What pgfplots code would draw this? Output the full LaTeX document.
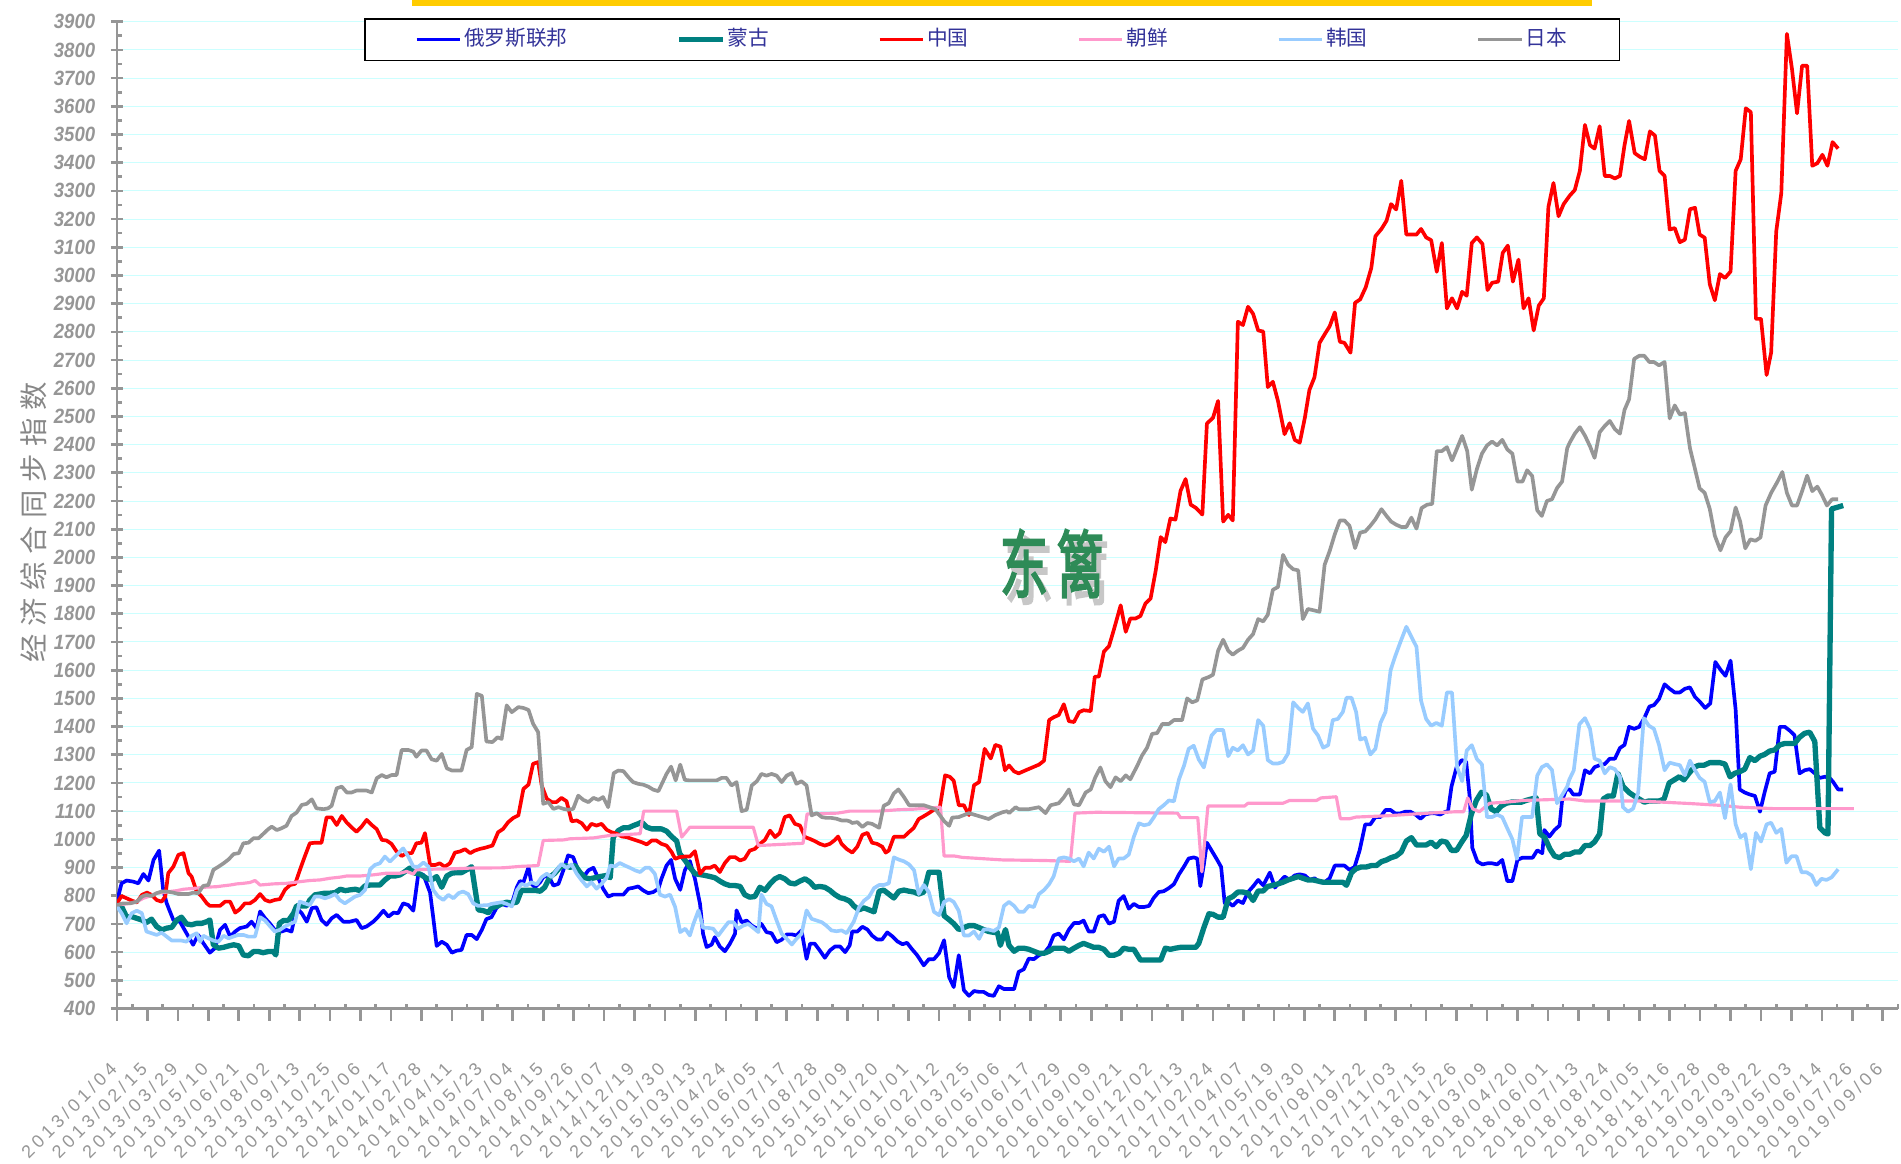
\documentclass[border=0pt]{standalone}
\usepackage{fontspec}
\setmainfont{Liberation Sans}
\newfontfamily\xlabfont[LetterSpace=22]{Liberation Sans}
\newfontfamily\ylabfont[FakeStretch=0.9]{Liberation Sans}
\newfontfamily\cjk{Noto Sans CJK SC}
\newfontfamily\cjkb[FakeBold=3]{Noto Sans CJK SC}
\usepackage{pgfplots}
\pgfplotsset{compat=1.18}
\definecolor{cblue}{HTML}{0000FF}
\definecolor{cteal}{HTML}{008080}
\definecolor{cred}{HTML}{FF0000}
\definecolor{cpink}{HTML}{FF99CC}
\definecolor{clblue}{HTML}{99CCFF}
\definecolor{cgray}{HTML}{969696}
\definecolor{axgray}{HTML}{969696}
\definecolor{gridc}{HTML}{CCFFFF}
\definecolor{legtext}{HTML}{333399}
\definecolor{wmgreen}{HTML}{2E8B57}
\definecolor{barY}{HTML}{FFCC00}

\begin{document}
\begin{tikzpicture}
\path[use as bounding box] (0,0) rectangle (570.3pt,348.9pt);
\fill[barY] (123.6pt,347.1pt) rectangle (477.6pt,348.9pt);
\begin{axis}[
  at={(35.1pt,46.35pt)}, anchor=south west,
  scale only axis, width=534.3pt, height=296.04pt,
  xmin=0, xmax=351, ymin=400, ymax=3900,
  axis x line*=bottom, axis y line*=left,
  axis line style={axgray, line width=0.8pt},
  tick style={axgray, line width=0.8pt},
  major tick length=3.6pt, minor tick length=1.5pt,
  xtick align=inside, ytick align=center,
  major x tick style={yshift=-3.6pt},
  minor y tick style={xshift=0.75pt},
  xtick={0,6,...,348}, minor xtick={3,9,...,351},
  ytick={400,500,...,3900}, minor ytick={450,550,...,3850},
  xticklabels={2013/01/04,2013/02/15,2013/03/29,2013/05/10,2013/06/21,2013/08/02,2013/09/13,2013/10/25,2013/12/06,2014/01/17,2014/02/28,2014/04/11,2014/05/23,2014/07/04,2014/08/15,2014/09/26,2014/11/07,2014/12/19,2015/01/30,2015/03/13,2015/04/24,2015/06/05,2015/07/17,2015/08/28,2015/10/09,2015/11/20,2016/01/01,2016/02/12,2016/03/25,2016/05/06,2016/06/17,2016/07/29,2016/09/09,2016/10/21,2016/12/02,2017/01/13,2017/02/24,2017/04/07,2017/05/19,2017/06/30,2017/08/11,2017/09/22,2017/11/03,2017/12/15,2018/01/26,2018/03/09,2018/04/20,2018/06/01,2018/07/13,2018/08/24,2018/10/05,2018/11/16,2018/12/28,2019/02/08,2019/03/22,2019/05/03,2019/06/14,2019/07/26,2019/09/06},
  xticklabel style={font=\xlabfont\fontsize{5.4}{6}\selectfont, text=axgray, inner sep=0pt, yshift=-15.5pt, xshift=-2.5pt, rotate=45, anchor=north east},
  yticklabel style={font=\ylabfont\fontsize{6.2}{7}\selectfont\bfseries\itshape, text=axgray, anchor=east, xshift=-1.2pt},
  /pgf/number format/.cd, set thousands separator={}, assume math mode=true, /pgfplots/.cd,
  ymajorgrids, major grid style={gridc, line width=0.3pt},
  ylabel={\cjk 经\hspace{2.3pt}济\hspace{2.3pt}综\hspace{2.3pt}合\hspace{2.3pt}同\hspace{2.3pt}步\hspace{2.3pt}指\hspace{2.3pt}数},
  ylabel style={at={(axis description cs:-0.047,0.493)}, anchor=center, font=\fontsize{8.5}{9}\selectfont, text=axgray!90!black},
  legend columns=6,
  legend image code/.code={\draw[#1] (0pt,0pt) -- (13pt,0pt);},
  legend style={at={(axis description cs:0.1387,1.0038)}, anchor=north west,
    draw=black, line width=0.5pt, fill=white,
    font=\cjk\fontsize{6.2}{7}\selectfont, text=legtext,
    inner xsep=15pt, inner ysep=2.2pt,
    nodes={inner sep=0.7pt},
    /tikz/every even column/.append style={column sep=32pt}},
]
\addplot[cblue, line width=1.1pt, line join=round] coordinates {
(0,780) (0.9,844) (1.9,854) (3.2,850) (4.2,844) (5.2,877) (6.2,854) (7.2,927) (8.3,960) (9.1,821) (9.8,773) (11.1,714) (12.4,708) (13.7,667) (15,626) (16,661) (17,632) (18.3,598) (19.3,614) (20.3,679) (21.3,697) (22.3,655) (23.3,673) (24.2,685) (25.6,691) (26.5,708) (27.5,685) (28.2,744) (29.2,720) (30.1,702) (31.1,679) (32.4,673) (33.4,679) (34.4,673) (35.4,756) (36.4,738) (37.4,708) (38.4,756) (39.3,759) (40.3,714) (41.3,697) (42.3,720) (43.3,732) (44.6,708) (45.9,708) (47.2,714) (48.2,685) (49.2,691) (50.5,708) (51.5,726) (52.5,747) (53.5,726) (54.5,740) (55.4,738) (56.4,773) (57.4,767) (58.4,747) (59.4,880) (60.4,874) (61.7,811) (62.3,726) (63,622) (64,637) (65,626) (66,598) (66.9,605) (67.9,608) (68.9,661) (69.9,661) (70.9,646) (71.9,679) (72.8,717) (73.8,724)
(74.8,757) (75.8,771) (76.8,765) (77.8,771) (78.8,830) (79.4,852) (80.1,848) (81.1,901) (81.7,842) (82.4,830) (83.4,848) (84,866) (85,872) (86,836) (87,842) (88,892) (88.9,943) (89.9,937) (90.9,890) (91.9,866) (92.9,890) (93.9,899) (94.9,860) (95.8,825) (96.8,797) (97.8,804) (98.8,804) (99.8,804) (100.8,825) (101.7,828) (102.7,833) (103.7,819) (104.7,809) (105.7,813) (106.7,825) (107.3,860) (108.3,907) (109.2,927) (110,860) (111,821) (111.9,890) (112.9,923) (113.9,860) (114.9,771) (115.5,665) (116.2,618) (117.2,627) (117.8,653) (118.8,620) (119.8,603) (120.8,630) (121.8,665) (122.1,748) (123.1,706) (124.1,712) (125.1,694) (126.1,683) (127,700) (128,671) (129,667) (130,635) (131,644) (132,663) (133,663) (133.9,659) (134.9,677) (135.9,576) (136.6,630) (137.5,630) (138.5,606) (139.5,580) (140.5,606) (141.5,620) (142.5,620) (143.5,600) (144.4,624)
(144.9,673) (145.9,673) (146.9,690) (147.9,680) (148.8,659) (149.8,645) (150.8,645) (151.8,670) (152.8,656) (153.8,638) (154.8,628) (155.7,633) (156.7,610) (157.7,589) (159,553) (160,575) (161,575) (162,596) (163,642) (164,511) (164.9,476) (165.9,589) (166.9,465) (167.9,445) (168.9,462) (169.9,459) (170.8,459) (171.8,448) (172.8,445) (173.8,479) (174.8,469) (175.8,469) (176.8,469) (177.7,530) (178.7,539) (179.7,577) (180.7,575) (181.7,589) (182.7,596) (183.7,619) (184.6,659) (185.6,666) (186.6,645) (187.6,680) (188.6,703) (189.6,703) (190.5,712) (191.5,673) (192.5,673) (193.5,726) (194.5,731) (195.5,701) (196.5,708) (197.4,782) (198.4,799) (199.4,754) (200.4,771) (201.4,760) (202.4,760) (203.4,764) (204.3,792) (205.3,813) (206.3,816) (207.3,827) (208.3,841) (209.3,876) (210.3,904) (211.2,932) (212.2,936) (212.9,932) (213.5,834) (214.2,911) (214.8,988)
(215.7,961) (216.7,931) (217.6,902) (218.3,774) (219,777) (219.9,764) (220.9,783) (221.9,774) (222.9,813) (223.9,833) (224.9,856) (225.9,837) (227.2,882) (228.2,829) (229.1,848) (230.1,868) (231.1,856) (232.1,872) (233.1,876) (234.1,872) (235.1,856) (236,862) (237,848) (238,848) (239,862) (240,907) (241,907) (241.9,907) (242.9,892) (243.9,902) (244.9,961) (246,1053) (247,1053) (248,1079) (249,1079) (250,1104) (251,1104) (251.9,1092) (252.9,1092) (253.9,1098) (254.9,1098) (255.9,1088) (256.9,1073) (257.8,1088) (258.8,1092) (259.8,1092) (260.8,1088) (261.8,1098) (262.3,1098) (263,1187) (264,1256) (265,1281) (265.9,1275) (266.6,1148) (267.1,970) (268.1,921) (269.1,911) (270.1,915) (271,915) (272,911) (273,927) (274,852) (275,852) (276,927) (277,935) (278,935) (279,935) (279.9,961) (280.9,951) (281.3,1033) (282.3,1010) (283.3,1033) (284.3,1049) (284.8,1138) (285.6,1177) (286.3,1177)
(287,1159) (288.3,1159) (289.3,1245) (290.3,1234) (291.2,1256) (292.2,1263) (293.2,1267) (294.2,1286) (295.2,1286) (296.2,1324) (297.1,1335) (298,1399) (299,1392) (300,1399) (301,1430) (302,1471) (302.9,1476) (303.9,1498) (305,1550) (306,1534) (307,1521) (308,1521) (309,1534) (310,1539) (311,1505) (311.9,1489) (313,1466) (314,1482) (315,1629) (316,1602) (317,1580) (318,1634) (319,1460) (319.8,1177) (320.8,1166) (321.8,1159) (322.8,1154) (323.8,1098) (324.7,1166) (325.7,1234) (326.7,1240) (327.7,1399) (328.7,1399) (329.7,1385) (330.6,1369) (331.6,1234) (332.6,1245) (333.6,1249) (334.6,1234) (335.6,1218) (336.6,1222) (337.5,1218) (338.2,1204) (339.2,1177) (340.2,1177)
};
\addlegendentry{俄罗斯联邦}
\addplot[cteal, line width=1.6pt, line join=round] coordinates {
(0,767) (0.9,762) (1.9,724) (2.9,726) (3.9,720) (4.9,714) (5.8,705) (6.8,717) (7.8,691) (8.8,679) (9.8,685) (10.8,688) (11.8,714) (12.7,724) (13.7,700) (14.7,697) (15.7,702) (16.7,702) (17.7,708) (18.3,714) (19,626) (20,614) (21,617) (22,622) (23,626) (24,622) (24.9,590) (25.9,587) (26.9,602) (27.9,602) (28.8,598) (29.8,602) (30.8,602) (31.3,590) (32,702) (32.8,712) (33.8,712) (34.8,738) (35.4,764) (36.4,764) (37.4,764) (38,785) (39,803) (40,806) (41,809) (42,809) (43,811) (44,823) (45,818) (46,821) (47,823) (47.9,818) (48.9,835) (49.9,838) (50.8,838) (51.8,838) (52.8,856) (53.8,870) (54.8,870) (55.8,874) (56.8,886) (57.7,898) (58.7,880) (59.7,877) (61,862) (62,856) (63,868) (64,830) (65,870) (66,880) (66.9,882) (67.9,882) (68.9,892) (69.9,903) (70.5,832) (71.2,750) (72.2,747) (73.2,740)
(73.8,757) (74.8,762) (75.8,771) (76.8,777) (77.8,774) (78.8,777) (79.7,819) (81.1,819) (82.4,819) (83.4,816) (84.3,830) (85.3,866) (86.3,880) (87.3,901) (88.3,907) (89.3,901) (90.3,907) (91.2,884) (92.2,864) (93.2,860) (94.2,864) (95.2,868) (96.5,872) (97.2,864) (97.8,1008) (98.8,1031) (99.8,1041) (100.8,1041) (101.8,1049) (102.7,1055) (103.4,1061) (104.4,1043) (105.4,1037) (106.3,1037) (107.3,1037) (108.3,1029) (109.3,1010) (110.3,994) (110.9,949) (111.9,927) (112.9,901) (113.9,878) (114.9,875) (115.9,872) (116.9,868) (117.8,864) (118.8,852) (119.8,842) (120.8,836) (121.8,836) (122.8,833) (123.7,804) (124.7,795) (125.7,797) (126.7,830) (127.7,819) (128.7,842) (129.7,860) (130.6,868) (131.6,860) (132.6,845) (133.6,842) (134.6,852) (135.6,860) (136.6,848) (137.5,830) (138.5,833) (139.5,830) (140.5,819) (141.5,804) (142.5,793) (143.4,789) (144.4,781)
(145.2,764) (146.2,750) (147.2,757) (148.2,750) (149.2,743) (150.2,816) (151.1,820) (152.1,806) (153.1,792) (154.1,816) (155.1,820) (156.1,816) (157.1,813) (158,806) (159,813) (160,883) (161,883) (162,883) (163,729) (164,715) (164.9,701) (165.9,680) (166.9,687) (167.9,694) (168.9,694) (169.9,687) (170.8,680) (171.8,673) (172.8,670) (173.5,670) (174.1,624) (175.1,680) (175.8,624) (176.8,603) (177.7,614) (178.7,614) (179.7,610) (180.7,603) (181.7,596) (182.7,596) (183.7,603) (184.6,614) (185.6,614) (186.6,614) (187.6,603) (188.6,614) (189.6,624) (190.5,631) (191.5,624) (192.5,617) (193.5,617) (194.5,610) (195.5,589) (196.5,589) (197.5,596) (198.4,614) (199.4,610) (200.4,610) (201.7,572) (202.7,572) (203.7,572) (204.7,572) (205.7,572) (206.6,614) (207.6,610) (208.6,614) (209.6,617) (210.6,617) (211.6,617) (212.6,617) (213.2,631) (214.2,687) (215.2,736)
(216,734) (217,724) (218,724) (219,789) (219.9,797) (220.9,813) (221.9,813) (222.9,809) (223.9,783) (224.9,817) (225.9,817) (226.8,833) (227.8,837) (228.8,842) (229.8,848) (230.8,856) (231.8,862) (232.8,868) (233.7,862) (234.7,856) (235.7,856) (236.7,852) (237.7,848) (238.7,848) (239.6,848) (240.6,848) (241.6,848) (242.3,837) (243.3,882) (244.2,896) (245.2,902) (246.2,902) (247.2,907) (248.2,907) (249.2,921) (250.2,927) (251.1,935) (252.1,941) (253.1,955) (254.1,994) (255.1,1006) (256.1,980) (257.1,980) (258,980) (259,990) (260,974) (261,994) (262,990) (263,961) (264,961) (265,990) (265.9,1014) (266.9,1088) (267.9,1138) (268.9,1167) (269.9,1157) (270.8,1108) (271.8,1098) (272.8,1118) (273.8,1128) (274.8,1132) (275.8,1132) (276.8,1132) (277.7,1138) (278.7,1143) (279.7,1147) (280.4,1020) (281.4,1006) (282.4,966) (283.3,941) (284.3,935) (285.3,947) (286.3,947)
(287.3,955) (288.3,955) (289.3,978) (290.3,978) (291.2,991) (292.2,1019) (292.9,1143) (293.9,1154) (294.9,1154) (295.8,1234) (296.8,1188) (298,1166) (299,1154) (300,1143) (301,1132) (301.9,1136) (302.9,1136) (303.9,1136) (304.9,1143) (305.9,1200) (306.9,1211) (307.9,1222) (308.8,1211) (309.8,1234) (310.8,1256) (311.8,1263) (312.8,1263) (313.9,1272) (314.9,1272) (315.9,1272) (316.9,1267) (317.9,1222) (318.8,1234) (319.8,1240) (320.8,1249) (321.8,1290) (322.8,1279) (323.8,1295) (324.7,1301) (325.7,1313) (326.7,1317) (327.7,1335) (328.7,1340) (329.7,1340) (330.6,1340) (331.6,1362) (332.6,1376) (333.6,1380) (334.6,1347) (335.6,1041) (336.6,1023) (337.2,1019) (337.9,2172) (338.9,2177) (340.2,2184)
};
\addlegendentry{蒙古}
\addplot[cred, line width=1.1pt, line join=round] coordinates {
(0,773) (0.9,799) (1.9,791) (2.9,783) (3.9,776) (4.9,803) (5.9,811) (6.8,803) (7.8,785) (8.8,779) (9.5,797) (10.1,880) (11.1,903) (12.1,945) (13.1,951) (14.1,880) (14.7,868) (15.7,815) (16.7,797) (17.7,773) (18.3,764) (19.3,764) (20.3,764) (21.3,779) (22.3,779) (23.3,740) (24.2,752) (25.2,773) (26.2,773) (27.2,785) (28.2,806) (29.2,785) (30.1,779) (31.1,785) (32.1,788) (33.1,821) (34.1,838) (35.1,842) (36.1,894) (37,939) (38,986) (39,988) (40.3,988) (41.3,1078) (42.3,1078) (43.3,1051) (44.3,1083) (45.3,1059) (46.2,1043) (47.2,1027) (48.2,1045) (49.2,1069) (50.2,1051) (51.2,1036) (52.2,998) (53.1,996) (54.1,984) (55.1,957) (56.1,941) (57.1,951) (58.1,951) (59,986) (60,988) (60.7,1022) (61.7,909) (62.7,909) (63.6,915) (64.6,903) (65.6,915) (66.6,953) (67.6,957) (68.6,965) (69.6,951) (70.5,960) (71.5,966) (72.5,970)
(74,978) (75.1,1025) (76.1,1037) (77.1,1061) (78.1,1076) (79.1,1085) (80.1,1179) (81.1,1194) (82,1268) (83,1274) (83.7,1191) (84.7,1144) (85.7,1132) (86.6,1132) (87.6,1147) (88.6,1135) (89.6,1064) (90.6,1067) (91.6,1057) (92.6,1034) (93.5,1055) (94.5,1049) (95.5,1055) (96.5,1034) (97.5,1025) (98.5,1020) (99.5,1010) (100.4,1008) (101.4,1002) (102.4,996) (103.4,990) (104.4,982) (105.4,996) (106.3,996) (107.3,984) (108.3,978) (109.3,955) (110,931) (110.9,937) (111.9,939) (112.9,939) (113.9,958) (114.9,878) (115.9,899) (116.9,899) (117.8,907) (118.8,884) (119.8,916) (120.8,937) (121.8,937) (122.8,925) (123.7,931) (124.7,960) (125.7,966) (126.7,984) (127.7,998) (128.7,1031) (129.7,1008) (130.6,1022) (131.6,1079) (132.6,1085) (133.6,1055) (134.6,1049) (135.6,1008) (136.5,1002) (137.5,994) (138.5,984) (139.5,978) (140.5,984) (141.5,998) (142.1,1010) (142.8,984) (143.8,966)
(144.9,953) (145.9,974) (146.9,1016) (147.9,1023) (148.8,988) (149.8,984) (150.8,974) (151.5,953) (152.1,960) (153.1,1009) (154.1,1009) (155.1,1009) (156.1,1026) (157,1040) (158,1072) (159,1082) (160,1093) (161,1105) (162.1,1107) (163.2,1227) (164.1,1222) (164.9,1208) (165.9,1121) (166.9,1121) (167.9,1086) (168.9,1192) (169.9,1203) (171,1321) (172.2,1287) (173.1,1335) (174.1,1329) (175,1245) (175.8,1262) (176.8,1241) (177.7,1234) (179.1,1245) (180.4,1255) (181.7,1265) (182.7,1279) (183.7,1423) (184.6,1433) (185.6,1441) (186.6,1479) (187.6,1419) (188.6,1416) (189.6,1451) (190.5,1458) (191.9,1455) (192.7,1577) (193.5,1577) (194.5,1666) (195.5,1685) (196.5,1746) (197.8,1830) (198.8,1736) (199.7,1783) (200.7,1783) (201.7,1792) (202.7,1837) (203.7,1854) (204.7,1952) (205.7,2072) (206.6,2054) (207.6,2138) (208.6,2134) (209.6,2236) (210.6,2278) (211.6,2187) (212.6,2176) (213.9,2152) (214.8,2475)
(216,2495) (217,2555) (218,2127) (219,2151) (219.9,2131) (220.9,2836) (221.9,2824) (222.9,2889) (223.9,2864) (224.9,2805) (225.9,2801) (226.8,2604) (227.8,2623) (228.8,2555) (230.1,2437) (231.1,2476) (232.1,2417) (233.1,2407) (234.1,2495) (235,2594) (236,2639) (237,2761) (238,2791) (239,2820) (240,2869) (241,2765) (241.9,2761) (243.1,2726) (244,2903) (245,2915) (246.1,2958) (247.2,3027) (248,3139) (249.2,3165) (250.2,3194) (251.1,3253) (252.1,3234) (253.1,3336) (254.1,3145) (255.1,3145) (256.1,3145) (257,3165) (258,3135) (259,3125) (260.1,3013) (261.1,3115) (262.1,2883) (263.1,2919) (264.1,2883) (265.1,2942) (266,2928) (267,3115) (268,3135) (269.1,3112) (270.1,2948) (271,2974) (272.2,2978) (273.1,3080) (274.1,3106) (275.1,2978) (276.2,3056) (277.2,2883) (278.2,2919) (279.2,2805) (280.2,2893) (281.2,2919) (282.1,3243) (283.1,3328) (284.1,3210) (285.1,3253) (286.3,3283)
(287.3,3303) (288.3,3371) (289.3,3534) (290.3,3462) (291.2,3450) (292.2,3529) (293.2,3353) (294.2,3353) (295.2,3344) (296.2,3353) (297.1,3462) (298,3548) (299.1,3434) (300.1,3421) (301.1,3412) (302.1,3511) (303.1,3496) (304,3371) (305,3353) (306,3163) (307,3168) (308,3118) (309,3127) (310,3235) (311,3240) (311.9,3145) (312.9,3134) (313.9,2969) (314.9,2912) (315.9,3005) (316.9,2991) (318,3014) (319,3371) (320,3412) (321,3593) (322,3579) (323,2846) (324,2846) (325.1,2647) (326,2727) (327,3156) (328,3292) (329.1,3857) (330.1,3733) (331.1,3575) (332.1,3744) (333.1,3744) (334.1,3389) (335.1,3398) (336.1,3428) (337.1,3389) (338.1,3473) (339.2,3450)
};
\addlegendentry{中国}
\addplot[cpink, line width=0.95pt, line join=round] coordinates {
(0,767) (2.6,773) (3.9,779) (5.2,791) (6.5,799) (7.8,809) (9.1,811) (10.4,815) (11.8,818) (13.1,823) (14.4,825) (15.7,827) (17,830) (19.6,832) (20.9,835) (22.3,838) (23.6,842) (24.9,844) (26.2,847) (27.2,854) (28.2,838) (30.8,842) (33.4,844) (34.8,847) (36.1,850) (38,854) (40,856) (42,862) (44,866) (45.3,870) (47.9,870) (50.5,874) (51.8,877) (53.1,880) (55.8,880) (57.1,886) (58.4,877) (59,892) (61.7,894) (64.3,895) (67,896) (69.6,898) (76.1,899) (79.4,904) (83,907) (84,996) (88,998) (89.3,1002) (93.9,1005) (97.2,1014) (100.4,1017) (103.1,1020) (103.8,1100) (110.3,1100) (111.3,1008) (112.9,1043) (125.4,1043) (126.4,978) (135.2,986) (136,1090) (142,1093) (144.4,1100) (150,1100) (154,1105) (157,1107) (162.3,1114) (163,941) (165,941) (166.6,936) (174.5,927) (182.7,925) (187.9,922) (188.8,1093) (193,1096) (209,1093) (209.6,1077) (213,1077) (213.8,885) (215,1118) (222.2,1118) (222.9,1128) (229.8,1128) (231.1,1138) (236.4,1138) (237.3,1147) (240.3,1151) (241.1,1073) (242.9,1073) (244.2,1079) (250.8,1084) (257.4,1092) (260.7,1095) (263.9,1098) (265.4,1098) (266.2,1147) (267.2,1108) (268.5,1098) (270.5,1128) (273.8,1132) (277.1,1138) (286.3,1143) (289.3,1136) (300,1136) (310,1127) (316.5,1120) (319.8,1114) (326.4,1109) (342.3,1109)
};
\addlegendentry{朝鲜}
\addplot[clblue, line width=1.1pt, line join=round] coordinates {
(0,762) (0.9,738) (1.9,702) (2.9,738) (3.9,747) (4.9,738) (5.8,673) (6.8,667) (7.8,661) (8.8,669) (9.8,655) (10.8,641) (11.8,641) (12.7,641) (13.7,637) (14.7,658) (15.7,667) (16.4,637) (17,658) (18,649) (19,641) (20,637) (21,658) (22,649) (22.9,655) (23.9,661) (24.9,661) (25.9,655) (27.2,655) (28.2,724) (29.2,712) (30.1,693) (31.1,673) (32.1,679) (33.1,691) (34.1,700) (35.1,708) (36,779) (37,773) (38,767) (39,797) (40,797) (41,791) (42,797) (43,806) (43.9,785) (44.9,773) (45.9,785) (46.9,797) (47.9,803) (48.9,821) (49.9,894) (50.8,909) (51.8,915) (52.8,939) (53.8,921) (54.8,939) (55.8,957) (56.4,968) (57.4,939) (58.4,903) (59.4,903) (60.4,918) (61.4,903) (62.3,821) (63.3,797) (64.3,785) (65.3,803) (66.3,791) (67.3,809) (68.2,815) (69.2,806) (70.2,773) (71.2,764) (72.2,766) (73.2,767)
(73.8,771) (74.8,774) (75.8,777) (76.8,771) (77.8,762) (78.8,819) (79.7,842) (80.7,836) (81.7,848) (82.7,840) (83.7,866) (84.7,878) (85.7,866) (86.6,890) (87.6,913) (88.6,899) (89.6,911) (90.6,878) (91.6,854) (92.6,833) (93.5,848) (94.5,825) (95.5,842) (96.5,864) (97.2,907) (98.1,904) (99.1,916) (100.1,907) (101.1,899) (102.1,890) (103.1,884) (104.1,899) (105,899) (106,878) (107,804) (108,797) (109,804) (110,760) (111,671) (112,683) (112.9,659) (113.6,700) (114.6,748) (115.5,686) (116.5,686) (117.5,683) (118.5,659) (119.5,683) (120.5,706) (121.5,706) (122.4,683) (123.4,694) (124.4,700) (125.4,686) (126.4,671) (127,804) (128,771) (129,762) (130,712) (131,665) (132,647) (133,627) (133.9,647) (134.9,665) (135.9,748) (136.9,718) (137.9,712) (138.9,706) (139.8,694) (140.8,677) (141.8,674) (142.8,677) (143.8,667)
(145.2,708) (146.2,757) (147.2,782) (148.2,796) (149.2,827) (150.2,838) (151.1,838) (152.1,844) (153.1,936) (154.1,928) (155.1,922) (156.1,911) (157.1,890) (158,806) (159,838) (160,813) (161,743) (162,731) (163,778) (164,788) (164.9,778) (165.9,746) (166.9,659) (167.9,659) (168.9,673) (169.9,647) (170.8,680) (171.8,680) (172.8,675) (173.8,687) (174.8,764) (175.8,778) (176.8,764) (177.7,743) (178.7,743) (179.7,764) (180.7,760) (181.7,806) (182.7,820) (183.7,841) (184.6,869) (185.6,932) (186.6,936) (187.6,932) (188.6,922) (189.6,932) (190.5,904) (191.5,953) (192.5,932) (193.5,967) (194.5,956) (195.5,974) (196.5,904) (197.4,932) (198.4,932) (199.4,946) (200.4,1009) (201.4,1057) (202.4,1050) (203.4,1054) (204.3,1077) (205.3,1107) (206.3,1121) (207.3,1138) (208.3,1135) (209.3,1213) (210.3,1262) (211.2,1321) (212.2,1332) (213.2,1283) (214.2,1255)
(215.7,1368) (216.7,1388) (218,1388) (219,1295) (219.9,1325) (220.9,1315) (221.9,1334) (222.9,1301) (223.9,1315) (224.9,1423) (225.9,1403) (226.8,1281) (227.8,1269) (228.8,1269) (229.8,1275) (230.8,1305) (231.8,1486) (232.8,1466) (233.7,1452) (234.7,1482) (235.7,1393) (236.7,1368) (237.7,1325) (238.7,1334) (239.6,1423) (240.6,1427) (241.6,1452) (242.3,1502) (243.3,1502) (244.2,1452) (245,1354) (246,1360) (247,1301) (248,1321) (249,1413) (250,1452) (251,1600) (251.9,1649) (252.9,1698) (254.1,1754) (255.1,1718) (256.1,1683) (257,1492) (258,1427) (259,1403) (260,1413) (261.1,1403) (262.1,1521) (263.1,1521) (264.1,1256) (265.1,1206) (266,1315) (267,1334) (268,1285) (269,1266) (270,1079) (271,1079) (272,1088) (273,1079) (274,1039) (275,1000) (275.9,931) (276.9,1079) (277.9,1079) (278.9,1079) (279.9,1226) (280.8,1256) (281.8,1266) (282.8,1246) (283.8,1128) (284.8,1157) (285.8,1187)
(286.2,1211) (287.1,1245) (288.2,1408) (289.3,1430) (290.3,1392) (291.2,1286) (292.2,1279) (293.2,1234) (294.2,1256) (295.2,1249) (296.2,1222) (296.8,1114) (297.8,1098) (298.8,1109) (299.8,1166) (300.9,1430) (301.9,1403) (302.9,1392) (303.9,1335) (305,1245) (306,1272) (307,1267) (308,1263) (309,1227) (310,1279) (311,1245) (311.9,1218) (312.9,1204) (313.9,1132) (314.9,1136) (315.9,1166) (316.9,1075) (318,1195) (319,1053) (319.9,1007) (320.9,1019) (322,894) (323,1023) (324,992) (325.1,1053) (326,1059) (327,1023) (328,1037) (329,917) (330,940) (331,940) (332,883) (333,883) (334,872) (334.9,838) (335.9,860) (336.9,856) (337.9,865) (339.2,894)
};
\addlegendentry{韩国}
\addplot[cgray, line width=1.1pt, line join=round] coordinates {
(0,767) (1.2,773) (2.6,773) (3.9,779) (4.9,797) (5.8,803) (6.8,799) (7.8,809) (8.8,815) (9.8,815) (11.1,811) (12.1,806) (13.1,806) (14.1,806) (15,811) (16,809) (17,835) (18,838) (19,892) (20,903) (21,915) (22,929) (23,948) (24,951) (24.9,986) (25.9,988) (26.9,1004) (27.9,1004) (28.8,1019) (29.8,1036) (30.5,1045) (31.5,1033) (32.4,1039) (33.4,1048) (34.4,1083) (35.4,1095) (36.4,1122) (37.4,1126) (38.4,1142) (39.3,1110) (40.7,1107) (41.6,1110) (42.3,1119) (43.3,1181) (44.3,1187) (45.3,1166) (46.2,1166) (47.2,1173) (48.2,1173) (49.2,1173) (50.2,1166) (51.2,1217) (52.2,1228) (53.1,1220) (54.1,1228) (55.1,1228) (56.1,1317) (57.4,1317) (58.4,1311) (59,1293) (60,1315) (61,1315) (62,1284) (63,1279) (64,1303) (65,1252) (66,1244) (66.9,1244) (67.9,1244) (68.9,1317) (69.9,1327) (70.9,1516) (71.9,1509) (72.8,1347) (74,1345)
(75,1362) (75.8,1356) (76.8,1475) (77.8,1451) (79.1,1469) (80.1,1466) (81.1,1459) (82,1410) (83,1380) (84,1126) (85,1132) (86,1108) (87,1114) (88,1108) (88.9,1105) (89.9,1108) (90.9,1155) (91.9,1140) (92.9,1132) (93.9,1147) (94.9,1140) (95.8,1150) (96.8,1114) (97.9,1235) (98.8,1244) (99.8,1242) (100.8,1220) (101.7,1203) (102.7,1197) (103.7,1194) (104.7,1187) (105.7,1176) (106.7,1171) (107.7,1209) (108.3,1232) (109.2,1258) (110.1,1209) (111,1265) (111.9,1211) (112.9,1209) (114.2,1209) (115.5,1209) (116.9,1209) (118.2,1209) (119.2,1218) (120.1,1218) (121.1,1191) (122.1,1203) (123.1,1100) (124.1,1105) (125.1,1191) (126.1,1206) (127,1232) (128,1226) (129,1232) (130,1226) (131,1203) (132,1226) (133,1235) (133.9,1197) (134.9,1206) (135.9,1191) (136.9,1085) (137.9,1093) (138.9,1079) (139.8,1076) (140.8,1076) (141.8,1073) (142.8,1067) (143.8,1067) (144.4,1064)
(144.9,1058) (145.9,1061) (146.9,1044) (147.9,1058) (148.8,1055) (150.2,1041) (151.1,1119) (152.1,1128) (153.1,1163) (154,1177) (155.1,1150) (156.1,1121) (159,1121) (161.3,1107) (163,1065) (164,1048) (164.6,1077) (165.9,1079) (167.9,1093) (169.2,1086) (171.8,1072) (173.1,1086) (174.5,1096) (175.4,1100) (175.8,1093) (177.1,1114) (177.7,1107) (179.7,1107) (181.7,1114) (183,1093) (184,1121) (185.6,1128) (186.6,1149) (187.6,1177) (188.6,1124) (189.6,1121) (190.9,1166) (191.9,1177) (192.8,1220) (193.8,1255) (194.8,1206) (195.8,1185) (196.8,1220) (197.8,1206) (198.8,1227) (199.7,1213) (201.1,1262) (202,1297) (203,1325) (204,1374) (205,1377) (206,1409) (207.3,1409) (208.3,1423) (209.9,1423) (210.9,1500) (211.9,1486) (212.9,1493) (213.9,1567) (215.2,1576)
(216,1584) (217,1669) (218,1708) (219,1669) (219.9,1655) (220.9,1669) (221.9,1679) (222.9,1708) (223.9,1728) (224.9,1781) (225.9,1773) (226.8,1797) (227.8,1885) (228.8,1895) (229.8,2009) (230.8,1974) (231.8,1958) (232.8,1954) (233.7,1781) (234.7,1817) (235.7,1813) (237,1807) (238,1974) (239,2023) (240,2082) (241,2131) (241.9,2131) (242.9,2112) (244,2033) (245,2088) (246,2092) (247,2112) (248,2135) (249.2,2171) (250.2,2147) (251.1,2127) (252.1,2116) (253.1,2108) (254.1,2108) (255.1,2141) (256.1,2102) (257.1,2175) (258.2,2187) (259.2,2190) (260.1,2377) (261.1,2377) (262.1,2391) (263.1,2344) (264.1,2387) (265.1,2431) (266.1,2377) (267,2240) (268,2313) (269,2368) (270,2397) (271,2411) (272,2397) (273,2417) (274,2383) (275,2368) (276,2269) (277,2269) (277.9,2309) (278.9,2289) (279.9,2167) (280.8,2147) (281.8,2200) (282.8,2206) (283.8,2246) (284.8,2269) (285.8,2387) (286.3,2407)
(287.3,2439) (288.3,2462) (289.3,2432) (290.3,2394) (291.2,2353) (292.2,2444) (293.2,2466) (294.2,2484) (295.2,2455) (296.2,2439) (297.1,2523) (298,2561) (299,2704) (300,2715) (301,2715) (302,2693) (302.9,2693) (303.9,2681) (305,2693) (306,2493) (307,2539) (308,2507) (309,2512) (310,2387) (311,2313) (311.9,2245) (312.9,2229) (313.9,2172) (314.9,2077) (316,2025) (317,2071) (318,2093) (319,2177) (319.9,2127) (320.9,2032) (321.9,2064) (322.9,2059) (323.9,2071) (324.9,2184) (326,2229) (327.2,2267) (328.2,2303) (329.1,2229) (330.1,2184) (331.1,2184) (332.1,2235) (333.1,2290) (334.1,2235) (335.1,2251) (336,2222) (337,2184) (338,2206) (339.2,2206)
};
\addlegendentry{日本}
\end{axis}
\node[font=\cjkb\fontsize{17}{18}\selectfont] at (315.7pt,178.8pt) {\scalebox{0.85}[1.3]{\makebox[0pt][l]{\hspace{1.7pt}\raisebox{-1.6pt}{\color{black!22}东\hspace{3pt}篱}}\textcolor{wmgreen}{东\hspace{3pt}篱}}};
\end{tikzpicture}
\end{document}
